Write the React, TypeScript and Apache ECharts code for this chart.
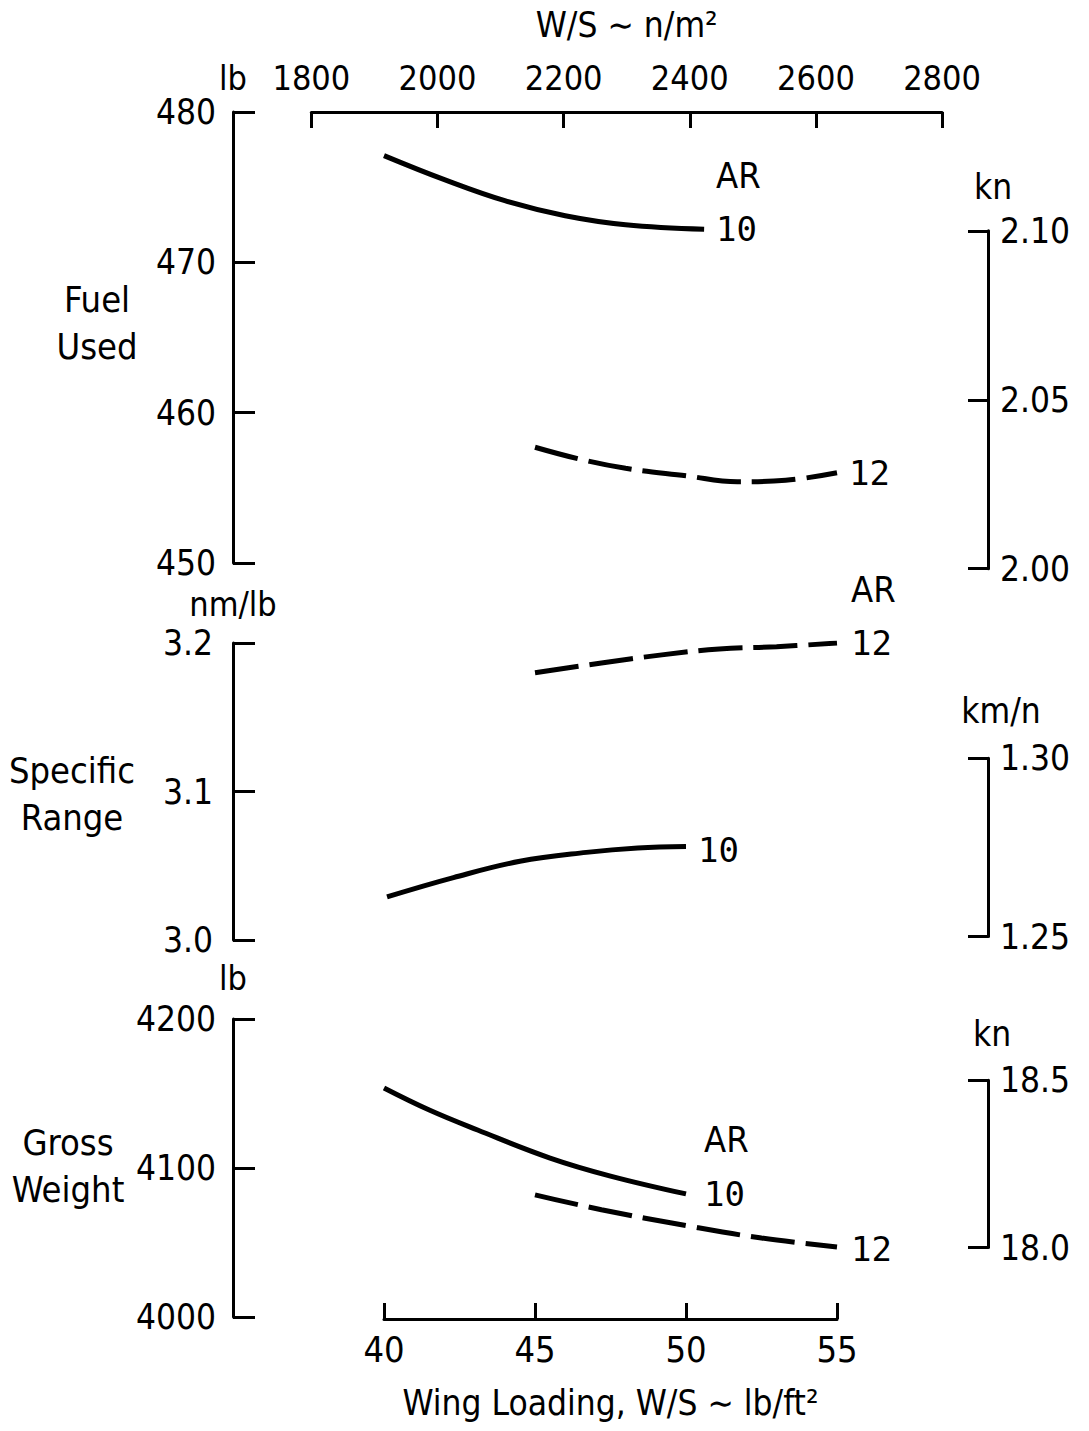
import React, { useEffect, useRef } from "react";
import * as echarts from "echarts";

// ---------- data ----------
// Wing loading W/S (lb/ft^2) for each curve, and the plotted values
const fuelAR10X = [40, 42, 44, 46, 48, 50.6];
const fuelAR10 = [477.1, 475.5, 474.1, 473.1, 472.5, 472.2];
const fuelAR12X = [45, 46.5, 48, 50, 51.7, 53.3, 55];
const fuelAR12 = [457.7, 456.9, 456.3, 455.8, 455.4, 455.5, 456.0];

const rangeAR10X = [40.1, 42.3, 44.5, 46.7, 48.4, 50];
const rangeAR10 = [3.029, 3.042, 3.053, 3.059, 3.062, 3.063];
const rangeAR12X = [45, 47.2, 49.2, 51.1, 53, 55];
const rangeAR12 = [3.18, 3.1865, 3.192, 3.196, 3.1975, 3.2];

const grossAR10X = [40, 41.5, 43.1, 45.5, 47.5, 50];
const grossAR10 = [4153.7, 4138.9, 4125.5, 4106.7, 4094.6, 4082.6];
const grossAR12X = [45, 47.2, 50.1, 52.5, 55];
const grossAR12 = [4082, 4072, 4061, 4053, 4047];

// axis scales: [min, max, interval]
const wingLoadingScale = [40, 55, 5]; // lb/ft^2 (bottom)
const wingLoadingMetricScale = [1800, 2800, 200]; // n/m^2 (top)
const fuelScale = [450, 480, 10]; // lb
const rangeScale = [3.0, 3.2, 0.1]; // nm/lb
const grossScale = [4000, 4200, 100]; // lb
const fuelMetricScale = [2.0, 2.1, 0.05]; // kn
const rangeMetricScale = [1.25, 1.3, 0.05]; // km/n
const grossMetricScale = [18.0, 18.5, 0.5]; // kn

const arLabels = ["10", "12"];

// unit conversions
const KN_TO_LB = 1000 / 4.4482216;
const KMN_TO_NMLB = 0.5399568 / 0.2248089;
const PSF_TO_PA = 47.880259;

// ---------- layout ----------
const PLOT_LEFT = 233;
const X_MIN = 35;
const X_MAX = 60;
const PX_PER_X = 30.2;
const PLOT_WIDTH = (X_MAX - X_MIN) * PX_PER_X;
const panels = [
  { top: 112, height: 451 },
  { top: 643, height: 297 },
  { top: 1019, height: 298 },
];

const FONT_NUM = '"Liberation Sans Narrow", "DejaVu Sans Condensed", "Roboto Condensed", sans-serif';
const FONT_TXT = '"DejaVu Sans Condensed", "DejaVu Sans", sans-serif';
const FONT_MONO = '"DejaVu Sans Mono", "Liberation Mono", monospace';
const INK = "#000";

const pair = (xs: number[], ys: number[]) => xs.map((x, i) => [x, ys[i]]);
const xToPx = (x: number) => PLOT_LEFT + (x - X_MIN) * PX_PER_X;

function rightGrid(p: { top: number; height: number }, left: number[], right: number[], conv: (v: number) => number) {
  const [lmin, lmax] = left;
  const yOf = (v: number) => p.top + ((lmax - v) / (lmax - lmin)) * p.height;
  const top = yOf(conv(right[1]));
  const bottom = yOf(conv(right[0]));
  return { left: PLOT_LEFT + PLOT_WIDTH - 80, width: 80, top, height: bottom - top };
}

const axisLine = { show: true, onZero: false, lineStyle: { color: INK, width: 3 } };
const tick = (len: number) => ({ show: true, inside: true, length: len, lineStyle: { color: INK, width: 3 } });

function endLabel(num: string, withAR: boolean, dx: number, dy: number) {
  return {
    show: true,
    distance: 12,
    offset: [dx, withAR ? dy - 27 : dy],
    formatter: withAR ? `{ar|AR}\n{n|${num}}` : `{n|${num}}`,
    rich: {
      ar: { fontFamily: FONT_TXT, fontSize: 36, lineHeight: 54, color: INK },
      n: { fontFamily: FONT_MONO, fontSize: 34, lineHeight: 54, color: INK },
    },
  };
}

function lineSeries(panel: number, data: number[][], dashed: boolean, label: any) {
  return {
    type: "line",
    xAxisIndex: panel,
    yAxisIndex: panel,
    data,
    symbol: "none",
    showSymbol: false,
    smooth: 0.4,
    silent: true,
    lineStyle: { color: INK, width: 5, type: dashed ? [44, 11] : "solid", cap: "butt" },
    endLabel: label,
  };
}

function App() {
  const ref = useRef<HTMLDivElement>(null);

  useEffect(() => {
    document.body.style.margin = "0";
    const chart = echarts.init(ref.current!, undefined, { renderer: "svg" });

    const leftScales = [fuelScale, rangeScale, grossScale];
    const rightScales = [fuelMetricScale, rangeMetricScale, grossMetricScale];
    const convs = [(v: number) => v * KN_TO_LB, (v: number) => v * KMN_TO_NMLB, (v: number) => v * KN_TO_LB];
    const leftNames = ["lb", "nm/lb", "lb"];
    const leftNameGaps = [17, 22, 24];
    const rightNames = ["kn", "km/n", "kn"];
    const rightNameGaps = [26, 30, 29];
    const rightNamePad = [10, 26, 8];
    const leftDigits = [0, 1, 0];
    const rightDigits = [2, 2, 1];
    const leftSizes = [35, 35, 35];
    const leftMargins = [17, 20, 17];

    const grids: any[] = panels.map((p) => ({ left: PLOT_LEFT, top: p.top, width: PLOT_WIDTH, height: p.height }));
    panels.forEach((p, i) => grids.push(rightGrid(p, leftScales[i], rightScales[i], convs[i])));
    // top metric wing-loading axis
    const mLeft = xToPx(wingLoadingMetricScale[0] / PSF_TO_PA);
    const mRight = xToPx(wingLoadingMetricScale[1] / PSF_TO_PA);
    grids.push({ left: mLeft, width: mRight - mLeft, top: panels[0].top, height: 20 });
    // bottom wing-loading axis
    const bLeft = xToPx(wingLoadingScale[0]);
    const bRight = xToPx(wingLoadingScale[1]);
    grids.push({ left: bLeft, width: bRight - bLeft, top: 1299, height: 20 });

    const xAxes: any[] = [];
    const yAxes: any[] = [];
    panels.forEach((_, i) => {
      xAxes.push({ gridIndex: i, type: "value", min: X_MIN, max: X_MAX, show: false });
      yAxes.push({
        gridIndex: i,
        type: "value",
        position: "left",
        min: leftScales[i][0],
        max: leftScales[i][1],
        interval: leftScales[i][2],
        axisLine,
        axisTick: tick(22),
        splitLine: { show: false },
        axisLabel: {
          margin: leftMargins[i],
          color: INK,
          fontFamily: i === 1 ? FONT_TXT : FONT_NUM,
          fontSize: leftSizes[i],
          formatter: (v: number) => v.toFixed(leftDigits[i]),
        },
        name: leftNames[i],
        nameLocation: "end",
        nameGap: leftNameGaps[i],
        nameTextStyle: { color: INK, fontFamily: FONT_NUM, fontSize: 34 },
      });
    });
    panels.forEach((_, i) => {
      xAxes.push({ gridIndex: 3 + i, type: "value", min: 0, max: 1, show: false });
      yAxes.push({
        gridIndex: 3 + i,
        type: "value",
        position: "right",
        min: rightScales[i][0],
        max: rightScales[i][1],
        interval: rightScales[i][2],
        axisLine,
        axisTick: tick(20),
        splitLine: { show: false },
        axisLabel: {
          margin: 12,
          color: INK,
          fontFamily: FONT_TXT,
          fontSize: 35,
          formatter: (v: number) => v.toFixed(rightDigits[i]),
        },
        name: rightNames[i],
        nameLocation: "end",
        nameGap: rightNameGaps[i],
        nameTextStyle: { color: INK, fontFamily: FONT_TXT, fontSize: 35, padding: [0, 0, 0, rightNamePad[i]] },
      });
    });
    // top metric axis
    xAxes.push({
      gridIndex: 6,
      type: "value",
      position: "top",
      min: wingLoadingMetricScale[0],
      max: wingLoadingMetricScale[1],
      interval: wingLoadingMetricScale[2],
      axisLine,
      axisTick: tick(16),
      splitLine: { show: false },
      axisLabel: { margin: 17, color: INK, fontFamily: FONT_NUM, fontSize: 34, formatter: (v: number) => String(v) },
      name: "W/S ∼ n/m²",
      nameLocation: "middle",
      nameGap: 70,
      nameTextStyle: { color: INK, fontFamily: FONT_TXT, fontSize: 35 },
    });
    yAxes.push({ gridIndex: 6, type: "value", min: 0, max: 1, show: false });
    // bottom axis
    xAxes.push({
      gridIndex: 7,
      type: "value",
      position: "bottom",
      min: wingLoadingScale[0],
      max: wingLoadingScale[1],
      interval: wingLoadingScale[2],
      axisLine,
      axisTick: tick(16),
      splitLine: { show: false },
      axisLabel: { margin: 12, color: INK, fontFamily: FONT_NUM, fontSize: 36, formatter: (v: number) => String(v) },
      name: "Wing Loading, W/S ∼ lb/ft²",
      nameLocation: "middle",
      nameGap: 66,
      nameTextStyle: { color: INK, fontFamily: FONT_TXT, fontSize: 35 },
    });
    yAxes.push({ gridIndex: 7, type: "value", min: 0, max: 1, show: false });

    const titleFont = `36px ${FONT_TXT}`;
    const titles = [
      { text: "Fuel\nUsed", x: 97, y: 323 },
      { text: "Specific\nRange", x: 72, y: 794 },
      { text: "Gross\nWeight", x: 68, y: 1166 },
    ];

    chart.setOption({
      animation: false,
      backgroundColor: "#fff",
      grid: grids,
      xAxis: xAxes,
      yAxis: yAxes,
      series: [
        lineSeries(0, pair(fuelAR10X, fuelAR10), false, endLabel(arLabels[0], true, 0, 0)),
        lineSeries(0, pair(fuelAR12X, fuelAR12), true, endLabel(arLabels[1], false, 0, 0)),
        lineSeries(1, pair(rangeAR10X, rangeAR10), false, endLabel(arLabels[0], false, 0, 4)),
        lineSeries(1, pair(rangeAR12X, rangeAR12), true, endLabel(arLabels[1], true, 2, 0)),
        lineSeries(2, pair(grossAR10X, grossAR10), false, endLabel(arLabels[0], true, 6, 0)),
        lineSeries(2, pair(grossAR12X, grossAR12), true, endLabel(arLabels[1], false, 2, 2)),
      ],
      graphic: titles.map((t) => ({
        type: "text",
        x: t.x,
        y: t.y,
        silent: true,
        style: { text: t.text, font: titleFont, fill: INK, align: "center", verticalAlign: "middle", lineHeight: 47 },
      })),
    });

    return () => chart.dispose();
  }, []);

  return <div ref={ref} style={{ position: "absolute", left: 0, top: 0, width: 1089, height: 1431 }} />;
}

export default App;
